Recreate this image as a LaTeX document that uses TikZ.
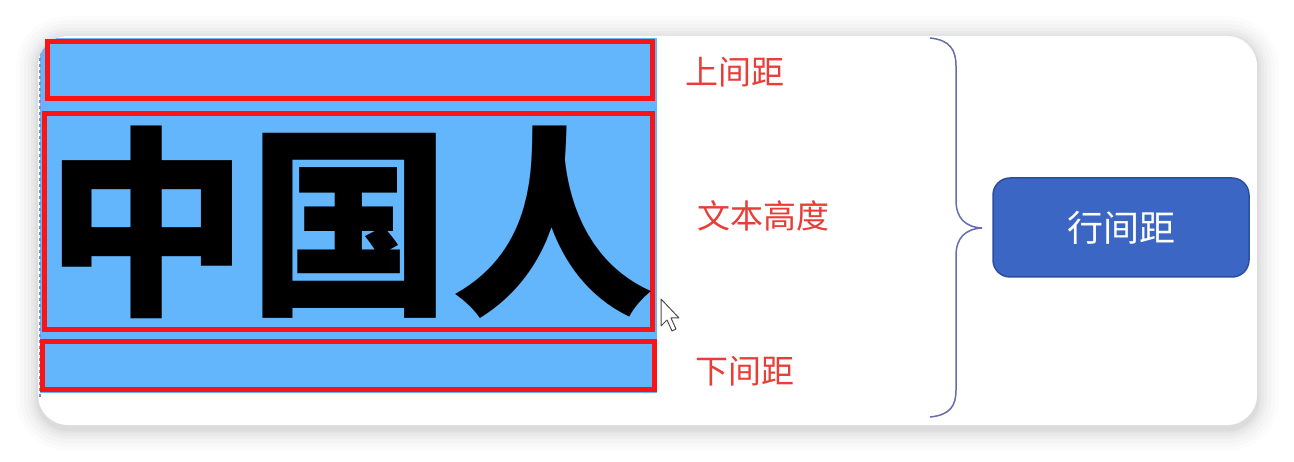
\documentclass[tikz,border=0pt]{standalone}
\usepackage{fontspec}
\newfontfamily\cjk{Noto Sans CJK SC}
\usepackage{tikz}
\usetikzlibrary{positioning,arrows.meta,calc}
\definecolor{panelshade}{RGB}{150,150,150}
\definecolor{lightblue}{RGB}{99,182,252}
\definecolor{markred}{RGB}{250,20,20}
\definecolor{labelred}{RGB}{232,62,56}
\definecolor{bracecol}{RGB}{100,110,176}
\definecolor{boxfill}{RGB}{59,102,196}
\definecolor{boxline}{RGB}{44,78,158}
\tikzset{
  gapbox/.style={draw=markred,line width=5pt},
  gaplabel/.style={text=labelred,font=\cjk\fontsize{33pt}{33pt}\selectfont,inner sep=0pt},
  spacingbox/.style={draw=boxline,line width=1.5pt,fill=boxfill,rounded corners=17pt,
    minimum width=256pt,minimum height=99pt,text=white,font=\cjk\fontsize{36pt}{36pt}\selectfont}
}
\begin{document}
\begin{tikzpicture}[x=1pt,y=-1pt]

		\useasboundingbox (0,0) rectangle (1294,462);
		\fill[white] (0,0) rectangle (1294,462);

		% soft shadow round the panel
		\foreach \d/\op in {22/0.02,18/0.03,14/0.04,10/0.05,7/0.06,4/0.07,2/0.08}
		\fill[panelshade,opacity=\op,rounded corners=30pt+\d pt]
		(38-\d,36-\d+2) rectangle (1257+\d,425+\d+4);

		\fill[white,rounded corners=30pt]
		(38,36) rectangle (1257,425);

		% text area
		\begin{scope}
		\clip[rounded corners=30pt] (38,36) rectangle (1257,425);
		\fill[lightblue]
		(40,38) rectangle (657,393);
		\draw[bracecol!80,dashed,line width=1.5pt]
		(40,40) -- (40,398);
		\end{scope}

		\draw[gapbox] (47,42) rectangle (652,99);
		\draw[gapbox] (44,114) rectangle (652,330);
		\draw[gapbox] (42,342) rectangle (654,390);

		\node[inner sep=0pt,font=\cjk\bfseries\fontsize{203pt}{203pt}\selectfont]
		(chars) at (350,222) {中国人};

		% cursor
		\draw[black!70,fill=white,line width=1pt,line join=round]
		(661,299) -- (661,326) -- (667,320) -- (672,331) -- (676,329)
		-- (671,318) -- (679,318) -- cycle;

		\node[gaplabel] (top) at (735,72) {上间距};
		\node[gaplabel] (mid) at (763,216) {文本高度};
		\node[gaplabel] (bot) at (745,371) {下间距};

		% brace
		\coordinate (bracetop) at (930,38);
		\coordinate (bracetip) at (982,228);
		\coordinate (bracebot) at (930,417);

		\draw[bracecol,line width=1.5pt]
		(bracetop) .. controls (950,40) and (956,50) .. (956,66)
		-- (956,200) .. controls (956,218) and (965,227) .. (bracetip)
		.. controls (965,229) and (956,238) .. (956,256)
		-- (956,390) .. controls (956,406) and (950,415) .. (bracebot);

		\node[spacingbox] (spacing) at (1121,227.5) {行间距};

	\end{tikzpicture}
\end{document}
